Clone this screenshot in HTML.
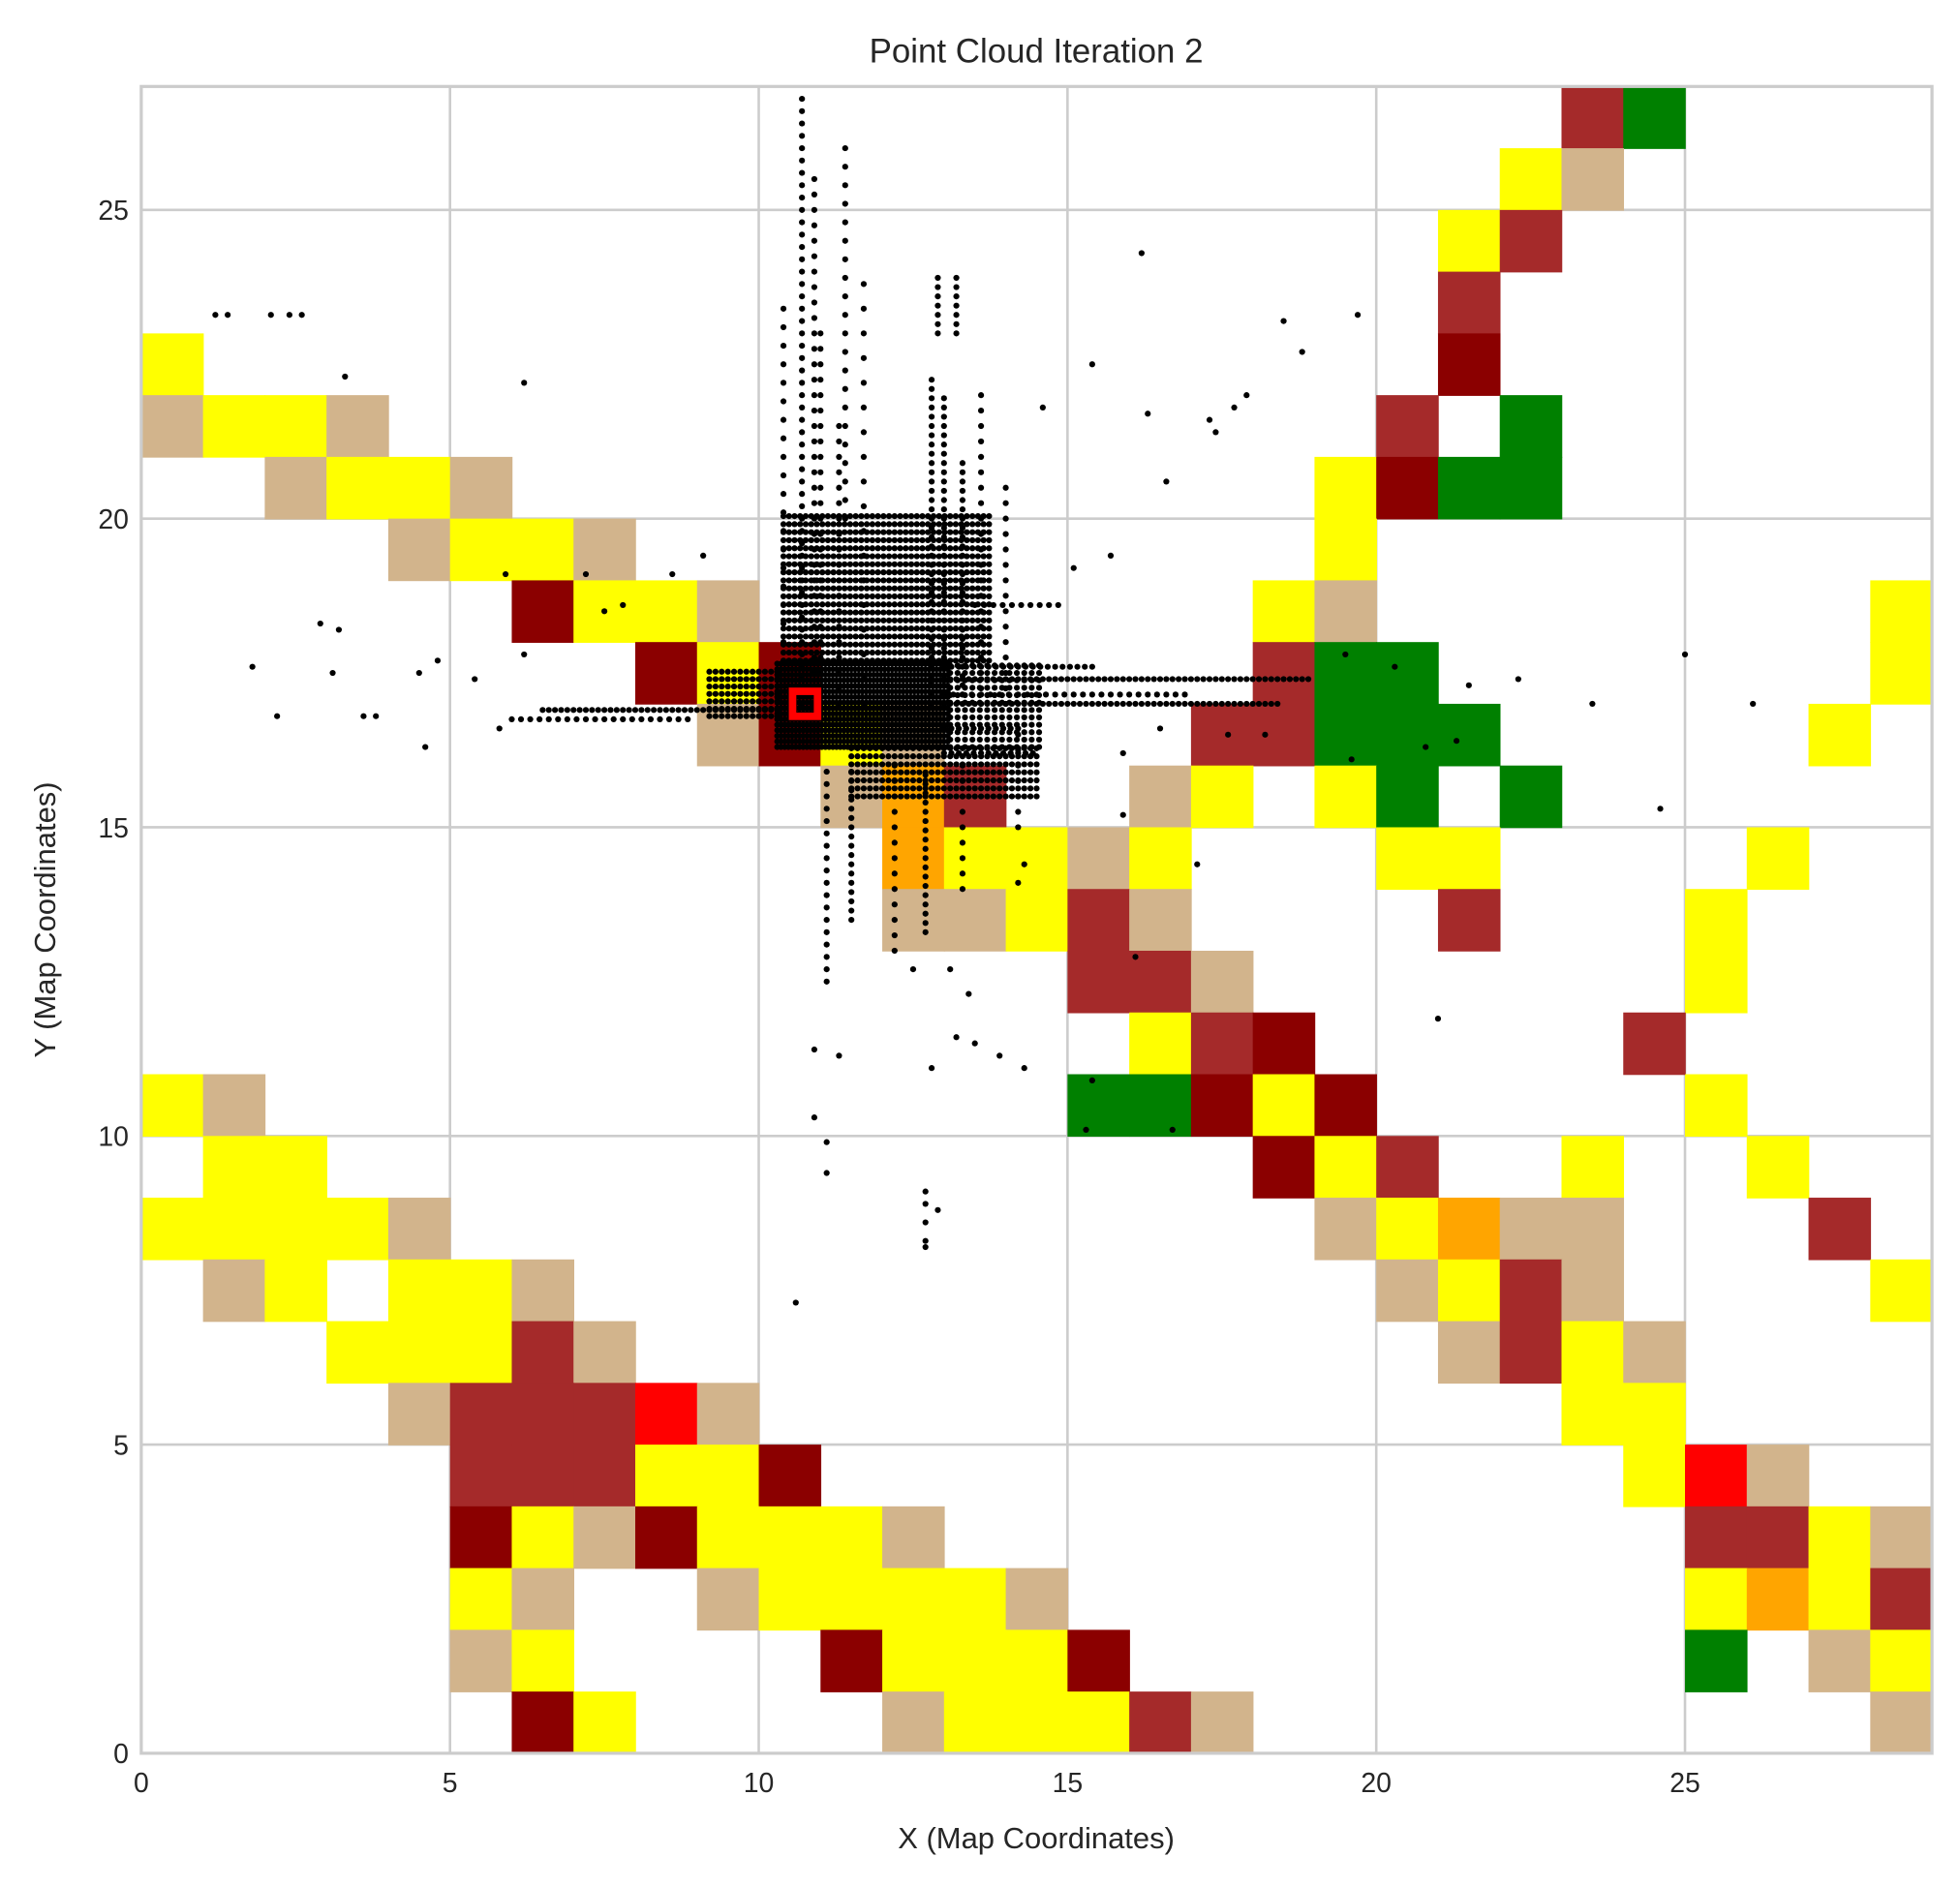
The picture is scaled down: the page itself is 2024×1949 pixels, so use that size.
<!DOCTYPE html>
<html><head><meta charset="utf-8"><style>
body{margin:0;background:#fff;}
svg{display:block;}
svg text{font-family:"Liberation Sans",sans-serif;fill:#262626;}
</style></head><body>
<svg id="chart" width="2024" height="1949" viewBox="0 0 1568 1510" preserveAspectRatio="none" xmlns="http://www.w3.org/2000/svg">
<rect width="1568" height="1510" fill="#fff"/>
<g id="grid"></g>
<g id="cells"></g>
<g id="pts"></g>
<g id="axes"></g>
<text x="829" y="50" font-size="27" text-anchor="middle">Point Cloud Iteration 2</text>
<text x="829" y="1479" font-size="24" text-anchor="middle">X (Map Coordinates)</text>
<text x="0" y="0" font-size="24" text-anchor="middle" transform="translate(44,736) rotate(-90)">Y (Map Coordinates)</text>
</svg>
<script>
const xTicks=[0,5,10,15,20,25];
const yTicks=[0,5,10,15,20,25];
const colorMap={Y:"#ffff00",T:"#d2b48c",B:"#a52a2a",D:"#8b0000",G:"#008000",O:"#ffa500",R:"#ff0000"};
// rows from y=26 (top) down to y=0; each string 29 columns, '.' = empty
const gridRows=[
".......................BG....",
"......................YT.....",
".....................YB......",
".....................B.......",
"Y....................D.......",
"TYYT................B.G......",
"..TYYT.............YDGG......",
"....TYYT...........Y.........",
"......DYYT........YT........Y",
"........DYD.......BGG.......Y",
".........TDYT....BBGGG.....Y.",
"...........TOB..TY.YG.G......",
"............OYYTY...YY....Y..",
"............TTYBT....B...Y...",
"...............BBT.......Y...",
"................YBD.....B....",
"YT.............GGDYD.....Y...",
".YY...............DYB..Y..Y..",
"YYYYT..............TYOTT...B.",
".TY.YYT.............TYBT....Y",
"...YYYBT.............TBYT....",
"....TBBBRT.............YY....",
".....BBBYYD.............YRT..",
".....DYTDYYYT............BBYT",
".....YT..TYYYYT..........YOYB",
".....TY....DYYYD.........G.TY",
"......DY....TYYYBT..........T"
];
const hStreaks=[[17.0,13,18.5,0.1],[17.4,13,19,0.1],[16.9,6.5,10.3,0.1],[16.75,6,9,0.15],[17.6,13,15.5,0.12],[16.2,13,14.5,0.12],[18.6,13.5,15,0.15],[17.15,13,17,0.15],[16.6,13,14.3,0.12]];
const vStreaks=[[10.7,17,26.8,0.2],[10.9,17,25.5,0.25],[11.0,17,23,0.25],[10.4,18,23.5,0.3],[11.3,17,21.5,0.25],[11.7,17,24,0.4],[12.8,17,22.3,0.15],[13.0,17,22,0.15],[13.3,17,21,0.15],[13.6,17,22,0.25],[14.0,17,20.5,0.25],[11.1,12.5,16,0.2],[11.5,13.5,16,0.15],[12.7,13.3,16,0.15],[12.2,13,16,0.25],[13.3,14,16,0.25],[14.2,15,16.5,0.25],[12.9,23,24,0.15],[13.2,23,24,0.15],[11.4,20,26.3,0.3]];
const coreBlocks=[[10.3,13.1,16.3,17.7,0.06,0.09],[10.4,13.8,17.7,20.1,0.09,0.13],[9.2,10.3,16.8,17.6,0.1,0.12],[11.5,14.5,15.5,16.3,0.1,0.13],[13.1,14.6,16.3,17.7,0.12,0.12]];
const scatter=[[1.2,23.3],[1.4,23.3],[2.1,23.3],[2.4,23.3],[2.6,23.3],[3.3,22.3],[6.2,22.2],[1.8,17.6],[2.2,16.8],[3.1,17.5],[3.6,16.8],[3.8,16.8],[4.5,17.5],[4.6,16.3],[4.8,17.7],[5.4,17.4],[5.8,16.6],[6.2,17.8],[2.9,18.3],[3.2,18.2],[5.9,19.1],[7.5,18.5],[7.8,18.6],[18.5,23.2],[18.8,22.7],[19.7,23.3],[17.3,21.6],[17.4,21.4],[17.7,21.8],[17.9,22],[16.2,24.3],[15.4,22.5],[14.6,21.8],[15.1,19.2],[15.7,19.4],[16.3,21.7],[16.6,20.6],[19.5,17.8],[20.3,17.6],[20.8,16.3],[21.3,16.4],[21.5,17.3],[22.3,17.4],[23.5,17],[25,17.8],[26.1,17],[24.6,15.3],[19.6,16.1],[21,11.9],[16.7,10.1],[15.3,10.1],[15.4,10.9],[16.1,12.9],[17.1,14.4],[15.9,15.2],[10.9,10.3],[11.1,9.9],[11.1,9.4],[10.6,7.3],[12.7,9.1],[12.7,8.9],[12.9,8.8],[12.7,8.6],[12.7,8.3],[12.7,8.2],[12.8,11.1],[13.2,11.6],[13.5,11.5],[13.9,11.3],[14.3,11.1],[11.3,11.3],[10.9,11.4],[13.1,12.7],[13.4,12.3],[12.5,12.7],[14.3,14.4],[14.2,14.1],[15.9,16.2],[16.5,16.6],[17.6,16.5],[18.2,16.5],[8.6,19.1],[9.1,19.4],[7.2,19.1]];

const L=113,R=1545.6,T=69.2,B=1403,unit=49.4;
const sx=v=>L+v*unit, sy=v=>B-v*unit;
const NS="http://www.w3.org/2000/svg";
function mk(tag,attrs,parent){const e=document.createElementNS(NS,tag);for(const k in attrs)e.setAttribute(k,attrs[k]);parent.appendChild(e);return e;}
const grid=document.getElementById('grid'),cells=document.getElementById('cells'),pts=document.getElementById('pts'),axes=document.getElementById('axes');
xTicks.forEach(t=>{const l=mk('line',{x1:sx(t),x2:sx(t),y1:T,y2:B,stroke:'#cccccc','stroke-width':2},grid);


const tx=mk('text',{x:sx(t),y:B+31,'font-size':22,'text-anchor':'middle'},axes);tx.textContent=t;

});
yTicks.forEach(t=>{const l=mk('line',{x1:L,x2:R,y1:sy(t),y2:sy(t),stroke:'#cccccc','stroke-width':2},grid);


const tx=mk('text',{x:L-10,y:sy(t)+8,'font-size':22,'text-anchor':'end'},axes);tx.textContent=t;

});
gridRows.forEach((row,i)=>{const yv=26-i;[...row].forEach((c,xv)=>{if(c==='.')return;
const r=mk('rect',{x:sx(xv),y:sy(yv+1),width:unit+0.6,height:unit+0.6,fill:colorMap[c]},cells);

});});
function dot(x,y){mk('circle',{cx:sx(x),cy:sy(y),r:2.4,fill:'#000'},pts);}
hStreaks.forEach(([y,x0,x1,s])=>{for(let x=x0;x<=x1;x+=s)dot(x,y);});
vStreaks.forEach(([x,y0,y1,s])=>{for(let y=y0;y<=y1;y+=s)dot(x,y);});
coreBlocks.forEach(([x0,x1,y0,y1,dx,dy])=>{for(let y=y0;y<=y1;y+=dy)for(let x=x0;x<=x1;x+=dx)dot(x,y);});
scatter.forEach(([x,y])=>dot(x,y));
const rs=mk('rect',{x:sx(10.75)-10,y:sy(17)-10,width:20,height:20,fill:'none',stroke:'#ff0000','stroke-width':6},pts);


const fr=mk('rect',{x:L,y:T,width:R-L,height:B-T,fill:'none',stroke:'#cccccc','stroke-width':2.5},axes);


</script>
</body></html>
